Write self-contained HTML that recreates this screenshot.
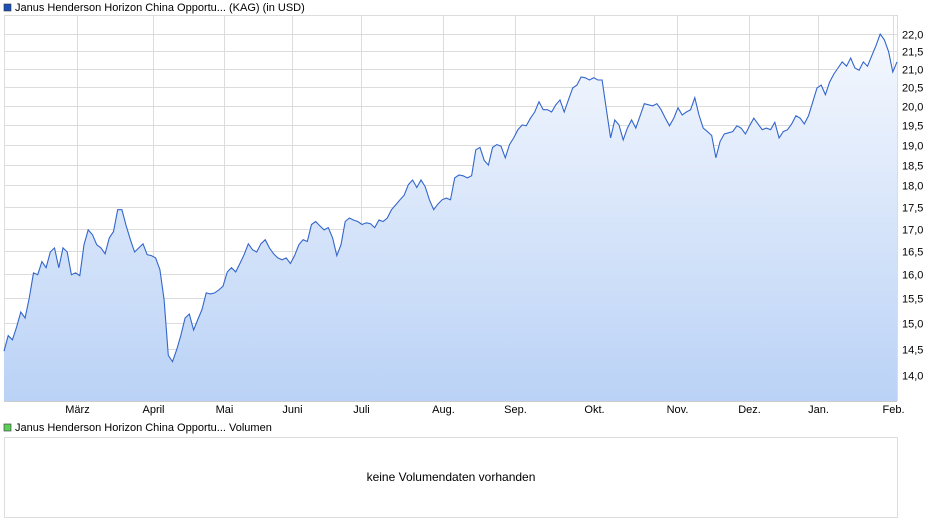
<!DOCTYPE html>
<html><head><meta charset="utf-8"><style>
body{margin:0;width:940px;height:526px;background:#fff;font-family:"Liberation Sans",sans-serif;overflow:hidden}
svg text{font-family:"Liberation Sans",sans-serif;font-size:11px;fill:#000}
</style></head><body>
<svg width="940" height="526">
<defs><linearGradient id="g" x1="0" y1="0" x2="0" y2="1"><stop offset="0" stop-color="#f5f8fe"/><stop offset="1" stop-color="#bad2f6"/></linearGradient></defs>
<rect x="4" y="4" width="7" height="7" fill="#1c4fb8" stroke="#333" stroke-width="0.6"/>
<text x="15" y="11">Janus Henderson Horizon China Opportu... (KAG) (in USD)</text>
<g id="grid"></g>
<path id="area" fill="url(#g)"/>
<path id="line" fill="none" stroke="#3366cc" stroke-width="1.1"/>
<g id="yax"></g><g id="xax"></g>
<rect x="4" y="424" width="7" height="7" fill="#5ccf5c" stroke="#333" stroke-width="0.6"/>
<text x="15" y="431">Janus Henderson Horizon China Opportu... Volumen</text>
<rect x="4.5" y="437.5" width="893" height="80" fill="#fff" stroke="#ddd"/>
<text x="451" y="481" text-anchor="middle" style="font-size:12px">keine Volumendaten vorhanden</text>
</svg>
<script>
const values=[14.45,14.75,14.67,14.92,15.22,15.10,15.51,16.03,15.99,16.27,16.14,16.48,16.57,16.14,16.57,16.48,15.99,16.03,15.97,16.64,16.97,16.86,16.64,16.57,16.44,16.79,16.93,17.43,17.43,17.06,16.75,16.48,16.57,16.66,16.42,16.40,16.35,16.10,15.47,14.37,14.25,14.48,14.76,15.10,15.18,14.86,15.07,15.27,15.61,15.59,15.61,15.67,15.75,16.05,16.14,16.05,16.23,16.42,16.66,16.53,16.48,16.66,16.75,16.57,16.44,16.35,16.31,16.35,16.23,16.40,16.64,16.75,16.71,17.09,17.16,17.06,16.97,17.02,16.79,16.40,16.64,17.16,17.24,17.19,17.16,17.09,17.13,17.11,17.02,17.19,17.16,17.24,17.43,17.54,17.66,17.77,18.02,18.13,17.95,18.13,17.97,17.66,17.43,17.56,17.66,17.70,17.66,18.18,18.25,18.23,18.18,18.23,18.87,18.93,18.61,18.49,18.93,19.00,18.96,18.67,19.00,19.17,19.38,19.50,19.48,19.68,19.84,20.11,19.90,19.90,19.84,20.03,20.16,19.84,20.16,20.48,20.56,20.78,20.76,20.70,20.76,20.70,20.70,19.90,19.17,19.63,19.50,19.12,19.42,19.63,19.42,19.74,20.06,20.03,20.00,20.06,19.90,19.68,19.48,19.68,19.95,19.76,19.84,19.90,20.22,19.76,19.42,19.33,19.23,18.67,19.08,19.27,19.30,19.33,19.48,19.42,19.27,19.48,19.68,19.53,19.38,19.42,19.38,19.57,19.17,19.33,19.38,19.53,19.74,19.68,19.53,19.74,20.11,20.48,20.56,20.30,20.64,20.86,21.03,21.20,21.08,21.31,21.03,20.97,21.20,21.08,21.37,21.66,22.0,21.83,21.49,20.92,21.20];
const yTicks=[14.0,14.5,15.0,15.5,16.0,16.5,17.0,17.5,18.0,18.5,19.0,19.5,20.0,20.5,21.0,21.5,22.0];
const months=["März","April","Mai","Juni","Juli","Aug.","Sep.","Okt.","Nov.","Dez.","Jan.","Feb."];
const monthFrac=[0.0818,0.1669,0.2464,0.3225,0.3998,0.4916,0.5722,0.6607,0.7536,0.8342,0.9115,0.9955];
const X0=4,X1=897,YT=15,YB=401;
const y=v=>34+(Math.log(22)-Math.log(v))*754.5;
const x=i=>X0+(X1-X0)*i/(values.length-1);
const NS="http://www.w3.org/2000/svg";
const grid=document.getElementById('grid'),yax=document.getElementById('yax'),xax=document.getElementById('xax');
function mk(t,a,p){const e=document.createElementNS(NS,t);for(const k in a)e.setAttribute(k,a[k]);p.appendChild(e);return e;}
yTicks.forEach(v=>{const yy=Math.round(y(v))+0.5;
const l=mk('line',{x1:X0,x2:X1,y1:yy,y2:yy,stroke:'#dcdcdc'},grid);


const t=mk('text',{x:902,y:yy+4},yax);t.textContent=v.toFixed(1).replace('.',',');

});
mk('line',{x1:X0,x2:X1,y1:15.5,y2:15.5,stroke:'#dcdcdc'},grid);
months.forEach((m,i)=>{const xx=Math.round(X0+(X1-X0)*monthFrac[i])+0.5;
const l=mk('line',{x1:xx,x2:xx,y1:YT,y2:YB,stroke:'#dcdcdc'},grid);


const t=mk('text',{x:xx,y:413,'text-anchor':'middle'},xax);t.textContent=m;

});
mk('line',{x1:X0+0.5,x2:X0+0.5,y1:YT,y2:YB,stroke:'#dcdcdc'},grid);
mk('line',{x1:X1+0.5,x2:X1+0.5,y1:YT,y2:YB,stroke:'#dcdcdc'},grid);
mk('line',{x1:X0,x2:X1,y1:YB+0.5,y2:YB+0.5,stroke:'#ccc'},grid);
let d=values.map((v,i)=>(i?'L':'M')+x(i).toFixed(1)+','+y(v).toFixed(1)).join('');
document.getElementById('line').setAttribute('d',d);
document.getElementById('area').setAttribute('d',d+'L'+X1+','+YB+'L'+X0+','+YB+'Z');
</script>
</body></html>
